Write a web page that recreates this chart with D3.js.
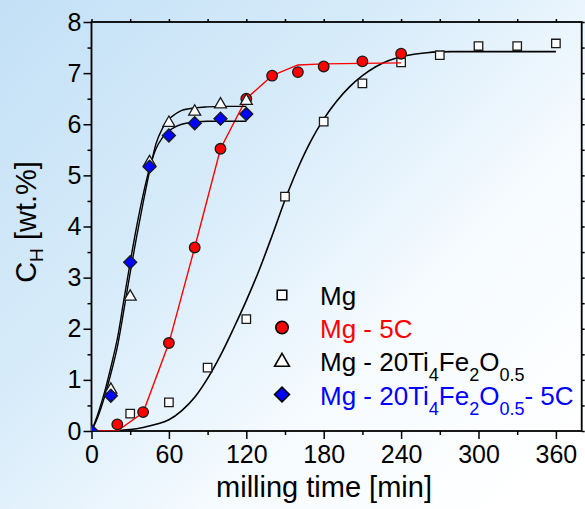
<!DOCTYPE html>
<html><head><meta charset="utf-8">
<script src="https://cdn.jsdelivr.net/npm/d3@7"></script>
<style>html,body{margin:0;padding:0;background:#fff}svg{display:block}</style>
</head><body>
<svg id="chart" width="585" height="509"></svg>
<script>
// ---- data ----
const mgT  = [30, 60, 90, 120, 150, 180, 210, 240, 270, 300, 330, 360];
const mgV  = [0.34, 0.56, 1.24, 2.19, 4.585, 6.05, 6.80, 7.21, 7.35, 7.53, 7.53, 7.58];
const mgFitT = [0, 15, 20, 30, 40, 50, 60, 70, 80, 90, 100, 110, 120, 130, 140, 150, 160, 170, 180, 190, 200, 210, 220, 230, 240, 250, 260, 270, 280, 360];
const mgFitV = [0, 0, 0.01, 0.03, 0.07, 0.13, 0.22, 0.4, 0.66, 1.03, 1.48, 2.0, 2.55, 3.15, 3.82, 4.52, 5.14, 5.67, 6.1, 6.45, 6.73, 6.95, 7.12, 7.24, 7.32, 7.37, 7.4, 7.415, 7.42, 7.42];

const c5T  = [20, 40, 60, 80, 100, 120, 140, 160, 180, 210, 240];
const c5V  = [0.13, 0.37, 1.72, 3.59, 5.52, 6.50, 6.95, 7.02, 7.13, 7.23, 7.38];
const c5FitT = [0, 20, 40, 60, 80, 100, 120, 140, 160, 180, 210, 240];
const c5FitV = [0, 0, 0.36, 1.72, 3.59, 5.52, 6.50, 6.95, 7.16, 7.18, 7.19, 7.20];

const tiT  = [0, 15, 30, 45, 60, 80, 100, 120];
const tiV  = [0, 0.83, 2.65, 5.28, 6.05, 6.27, 6.41, 6.48];
const diT  = [0, 15, 30, 45, 60, 80, 100, 120];
const diV  = [0, 0.69, 3.30, 5.17, 5.78, 6.02, 6.11, 6.20];
const fastFitT = [0, 5, 10, 15, 20, 25, 30, 35, 40, 45, 50, 55, 60, 65, 70, 80, 90, 100, 120];
const tiFitV = [0, 0.28, 0.66, 1.12, 1.64, 2.35, 3.1, 3.8, 4.46, 5.08, 5.62, 5.92, 6.1, 6.2, 6.27, 6.32, 6.34, 6.35, 6.35];
const diFitV = [0, 0.34, 0.75, 1.25, 1.8, 2.55, 3.3, 4.0, 4.62, 5.14, 5.52, 5.74, 5.87, 5.95, 6.0, 6.04, 6.06, 6.06, 6.06];

const xMajor = [0, 60, 120, 180, 240, 300, 360];
const xMinor = [30, 90, 150, 210, 270, 330];
const yMajor = [0, 1, 2, 3, 4, 5, 6, 7, 8];
const yMinor = [0.5, 1.5, 2.5, 3.5, 4.5, 5.5, 6.5, 7.5];

const legendLabels = ["Mg", "Mg - 5C", "Mg - 20Ti4Fe2O0.5", "Mg - 20Ti4Fe2O0.5- 5C"];

// ---- drawing ----
const FONT = "'Liberation Sans', Arial, Helvetica, sans-serif";
const svg = d3.select("#chart");
const W = 585, H = 509;
const L = 91.5, R = 581.7, T = 22, B = 431;

const defs = svg.append("defs");
const g = defs.append("linearGradient").attr("id", "bg")
  .attr("gradientUnits", "userSpaceOnUse")
  .attr("x1", 0).attr("y1", 0).attr("x2", 520).attr("y2", 510);
[[0, "#c3e0f6"], [0.4, "#d8ecfa"], [0.7, "#f6fbff"], [1, "#ffffff"]].forEach(s =>
  g.append("stop").attr("offset", s[0]).attr("stop-color", s[1]));
defs.append("clipPath").attr("id", "plotclip").append("rect")
  .attr("x", L).attr("y", T).attr("width", R - L).attr("height", B - T);

svg.append("rect").attr("width", W).attr("height", H).attr("fill", "url(#bg)");

const x = d3.scaleLinear().domain([0, 380]).range([L, R]);
const y = d3.scaleLinear().domain([0, 8]).range([B, T]);

function styleAxis(sel, labels) {
  sel.select(".domain").remove();
  sel.selectAll(".tick line").attr("stroke", "#000").attr("stroke-width", 1.5);
  if (labels) sel.selectAll(".tick text").attr("font-family", FONT).attr("font-size", 25).attr("fill", "#000");
  else sel.selectAll(".tick text").remove();
}
// bottom
svg.append("g").attr("transform", `translate(0,${B})`)
  .call(d3.axisBottom(x).tickValues(xMajor).tickSize(8).tickPadding(6).tickFormat(d3.format("d")))
  .call(s => styleAxis(s, true));
svg.append("g").attr("transform", `translate(0,${B})`)
  .call(d3.axisBottom(x).tickValues(xMinor).tickSize(4)).call(s => styleAxis(s, false));
// left
svg.append("g").attr("transform", `translate(${L},0)`)
  .call(d3.axisLeft(y).tickValues(yMajor).tickSize(8).tickPadding(2).tickFormat(d3.format("d")))
  .call(s => styleAxis(s, true));
svg.append("g").attr("transform", `translate(${L},0)`)
  .call(d3.axisLeft(y).tickValues(yMinor).tickSize(4)).call(s => styleAxis(s, false));
// top & right
svg.append("g").attr("transform", `translate(0,${T})`)
  .call(d3.axisTop(x).tickValues(xMajor.concat(xMinor)).tickSize(3)).call(s => styleAxis(s, false));
svg.append("g").attr("transform", `translate(${R},0)`)
  .call(d3.axisRight(y).tickValues(yMajor.concat(yMinor)).tickSize(3)).call(s => styleAxis(s, false));

// frame
svg.append("rect").attr("x", L).attr("y", T).attr("width", R - L).attr("height", B - T)
  .attr("fill", "none").attr("stroke", "#000").attr("stroke-width", 1.8);

const plot = svg.append("g").attr("clip-path", "url(#plotclip)");
const smooth = d3.line().x(d => x(d[0])).y(d => y(d[1])).curve(d3.curveMonotoneX);
const straight = d3.line().x(d => x(d[0])).y(d => y(d[1]));
const zip = (a, b) => a.map((v, i) => [v, b[i]]);

const sym = {
  square: d3.symbol().type(d3.symbolSquare).size(72),
  circle: d3.symbol().type(d3.symbolCircle).size(88),
  triangle: d3.symbol().type(d3.symbolTriangle).size(62),
  diamond: d3.symbol().type(d3.symbolSquare).size(85)
};
function markers(pts, kind, fill) {
  plot.append("g").selectAll("path").data(pts).join("path")
    .attr("d", sym[kind])
    .attr("transform", d => `translate(${x(d[0])},${y(d[1])})` + (kind === "diamond" ? " rotate(45)" : "") + (kind === "triangle" ? " translate(0,1.2)" : ""))
    .attr("fill", fill).attr("stroke", "#1a1a1a").attr("stroke-width", 1.3);
}

// Mg
plot.append("path").attr("d", smooth(zip(mgFitT, mgFitV))).attr("fill", "none").attr("stroke", "#000").attr("stroke-width", 1.6);
markers(zip(mgT, mgV), "square", "#fff");
// Mg - 5C
plot.append("path").attr("d", straight(zip(c5FitT, c5FitV))).attr("fill", "none").attr("stroke", "#ff0000").attr("stroke-width", 1.4);
markers(zip(c5T, c5V), "circle", "#ff0000");
// Ti / diamond fits
plot.append("path").attr("d", smooth(zip(fastFitT, tiFitV))).attr("fill", "none").attr("stroke", "#000").attr("stroke-width", 1.4);
plot.append("path").attr("d", smooth(zip(fastFitT, diFitV))).attr("fill", "none").attr("stroke", "#000").attr("stroke-width", 1.4);
markers(zip(tiT, tiV), "triangle", "#fff");
markers(zip(diT, diV), "diamond", "#0000ff");

// axis titles
svg.append("text").attr("x", 324).attr("y", 497).attr("text-anchor", "middle")
  .attr("font-family", FONT).attr("font-size", 29).attr("fill", "#000").text("milling time [min]");
const yt = svg.append("text").attr("transform", "translate(36,222) rotate(-90)").attr("text-anchor", "middle")
  .attr("font-family", FONT).attr("font-size", 29).attr("fill", "#000");
yt.append("tspan").text("C");
yt.append("tspan").attr("font-size", 19).attr("dy", 7).text("H");
yt.append("tspan").attr("dy", -7).text(" [wt.%]");

// legend
const legKinds = ["square", "circle", "triangle", "diamond"];
const legFills = ["#fff", "#ff0000", "#fff", "#0000ff"];
const legColors = ["#000", "#ff0000", "#000", "#0000ff"];
const legBase = [305, 337.5, 370.5, 404.5];
const legSize = { square: 90, circle: 120, triangle: 95, diamond: 110 };
legendLabels.forEach((lab, i) => {
  const k = legKinds[i];
  svg.append("path")
    .attr("d", d3.symbol().type(k === "circle" ? d3.symbolCircle : k === "triangle" ? d3.symbolTriangle : d3.symbolSquare).size(legSize[k]))
    .attr("transform", `translate(282,${legBase[i] - 10})` + (k === "diamond" ? " rotate(45)" : "") + (k === "triangle" ? " translate(0,1.5)" : ""))
    .attr("fill", legFills[i]).attr("stroke", "#000").attr("stroke-width", 1.6);
  const t = svg.append("text").attr("x", 320).attr("y", legBase[i])
    .attr("font-family", FONT).attr("font-size", 26).attr("fill", legColors[i]);
  // split label into normal text and subscripts
  const m = lab.match(/^(.*Ti)(4)(Fe)(2)(O)(0\.5)(.*)$/);
  if (!m) { t.text(lab); return; }
  const parts = [[m[1], 0], [m[2], 1], [m[3], 0], [m[4], 1], [m[5], 0], [m[6], 1], [m[7], 0]];
  let cur = 0;
  parts.forEach(([s, sub]) => {
    if (!s) return;
    const target = sub ? 10 : 0;
    t.append("tspan").attr("dy", target - cur).attr("font-size", sub ? 18 : 26).text(s);
    cur = target;
  });
});
</script>
</body></html>
